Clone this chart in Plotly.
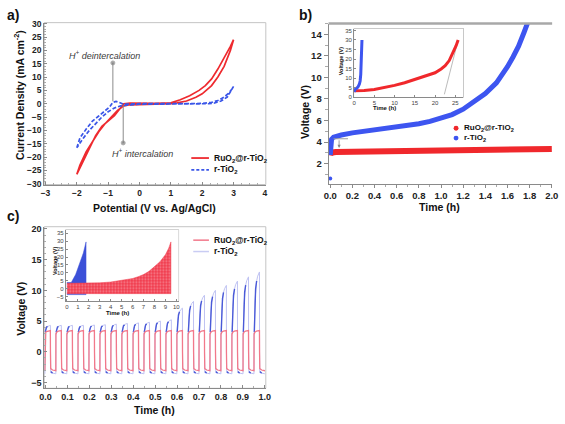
import plotly.graph_objects as go

W, H = 565, 424
def fx(px): return px / W
def fy(py): return 1 - py / H

FONT = "Liberation Sans, Arial, sans-serif"

# ---------------- Panel a: CV data ----------------
cv_red_x = [-2.0, -1.8, -1.6, -1.4, -1.2, -1.0, -0.8, -0.6, -0.5, -0.3, 0.0, 0.5, 1.0, 1.3, 1.6, 1.9, 2.1, 2.3, 2.5, 2.7, 2.9, 3.0,
            2.9, 2.7, 2.5, 2.3, 2.1, 2.0, 1.8, 1.5, 1.2, 1.0, 0.5, 0.0, -0.3, -0.5, -0.7, -0.9, -1.1, -1.3, -1.5, -1.7, -1.9, -2.0]
cv_red_y = [-26.5, -21.5, -16.5, -12.0, -8.5, -6.5, -4.5, -1.5, 0.0, 0.2, 0.1, 0.1, 0.3, 1.5, 3.0, 5.0, 6.8, 9.3, 13.0, 17.0, 21.5, 24.0,
            20.0, 14.0, 10.0, 6.8, 4.6, 3.7, 2.4, 1.0, 0.3, 0.0, -0.2, -0.3, -0.4, -0.8, -2.5, -5.0, -7.5, -10.5, -14.0, -18.0, -23.0, -26.5]
cv_blue_x = [-2.0, -1.9, -1.7, -1.5, -1.3, -1.1, -0.95, -0.85, -0.75, -0.65, -0.5, -0.3, 0.0, 1.0, 2.0, 2.3, 2.5, 2.7, 2.85, 2.95, 3.0,
             2.95, 2.8, 2.6, 2.4, 2.2, 1.0, 0.0, -0.4, -0.6, -0.8, -1.0, -1.2, -1.4, -1.6, -1.8, -2.0]
cv_blue_y = [-16.5, -12.8, -9.5, -6.5, -4.6, -2.8, -1.2, 0.5, 0.9, 0.5, -0.2, -0.1, 0.0, 0.0, 0.1, 0.5, 1.2, 2.5, 4.0, 5.5, 6.5,
             5.0, 2.5, 1.0, 0.3, 0.0, -0.1, -0.2, -0.5, -0.8, -1.6, -3.0, -5.0, -7.5, -10.0, -13.0, -16.5]
deint_x = [-0.85, -0.85]
deint_y = [15.3, 0.9]
int_x = [-0.52, -0.52]
int_y = [-0.6, -14.7]

# ---------------- Panel b: discharge data ----------------
b_red_t = [0.0, 0.005, 0.05, 0.4, 0.82, 0.85, 1.2, 1.6, 2.0]
b_red_v = [2.75, 3.0, 3.07, 3.13, 3.18, 3.25, 3.3, 3.33, 3.36]
b_blue_t = [0.0, 0.003, 0.006, 0.012, 0.03, 0.06, 0.1, 0.2, 0.3, 0.4, 0.5, 0.6, 0.7, 0.8, 0.9, 1.0,
            1.1, 1.2, 1.3, 1.4, 1.5, 1.55, 1.6, 1.65, 1.7, 1.75, 1.79]
b_blue_v = [2.8, 3.4, 3.9, 4.25, 4.45, 4.55, 4.65, 4.85, 4.98, 5.1, 5.22, 5.37, 5.53, 5.7, 5.92, 6.2,
            6.55, 7.05, 7.75, 8.5, 9.5, 10.2, 11.0, 11.9, 12.9, 14.2, 15.3]
b_blue_start_t = [0.0]
b_blue_start_v = [0.6]
b_guide_t = [0.03, 0.16]
b_guide_v = [4.3, 4.3]

bi_red_t = [0, 2.5, 5, 7.5, 10, 12.5, 15, 17.5, 20, 21.5, 22.5, 23.5, 24.5, 25.2, 25.7]
bi_red_v = [3.4, 3.5, 4.0, 4.9, 6.2, 7.6, 9.3, 11.0, 12.8, 14.8, 16.5, 19.2, 23.5, 27.0, 30.0]
bi_blue_t = [0, 0.3, 0.7, 1.0, 1.3, 1.5, 1.65, 1.75, 1.85, 1.95]
bi_blue_v = [2.8, 4.2, 4.8, 5.5, 6.8, 8.5, 12.0, 17.0, 23.0, 30.0]
bi_guide_t = [22.3, 25.7]
bi_guide_v = [1.5, 30.0]

# ---------------- Panel c: cycling data ----------------
c_cycle_start = [-0.003, 0.047, 0.097, 0.148, 0.198, 0.248, 0.298, 0.348, 0.399, 0.449,
                 0.499, 0.549, 0.599, 0.650, 0.700, 0.750, 0.800, 0.850, 0.901, 0.951, 1.001]
c_blue_peak = [4.3, 4.3, 4.3, 4.3, 4.35, 4.4, 4.5, 4.6, 4.7, 4.8,
               5.0, 5.2, 7.1, 8.2, 9.2, 10.0, 10.8, 11.5, 12.2, 13.0]
c_blue_trough = [-3.6] * 20
c_red_peak = [3.45] * 20
c_red_trough = [-3.1] * 20
charge_u = [0.0, 0.1, 0.25, 0.45, 0.65, 0.85, 1.0]
charge_shape = [0.0, 0.5, 0.72, 0.85, 0.93, 0.975, 1.0]

ci_red_top_t = [0.0, 1.0, 2.0, 3.0, 4.0, 5.0, 6.0, 6.5, 7.0, 7.5, 8.0, 8.5, 9.0, 9.3, 9.5]
ci_red_top_v = [3.5, 3.5, 3.6, 3.8, 4.3, 5.2, 6.5, 7.6, 9.0, 11.0, 13.8, 17.0, 21.5, 25.5, 29.5]
ci_red_low = -3.0
ci_blue_top_t = [0.0, 0.4, 0.8, 1.2, 1.5, 1.75]
ci_blue_top_v = [4.0, 4.0, 9.0, 16.0, 22.5, 29.5]
ci_blue_low = -3.6


def cycle_wave(starts, peaks, troughs, jump_v, drop_v):
    """Build the charge/discharge trace and the 'dense-sample' segments from per-cycle values."""
    ts, vs, dts, dvs = [], [], [], []
    for k in range(len(peaks)):
        s, e = starts[k], starts[k + 1]
        half = (e - s) / 2
        prev_tr = troughs[k - 1] if k > 0 else troughs[0]
        ts += [s, s + 0.0004]
        vs += [prev_tr, jump_v]
        seg_t, seg_v = [], []
        for i, (u, f) in enumerate(zip(charge_u, charge_shape)):
            t = s + 0.0015 + u * (half - 0.0015)
            v = jump_v + (peaks[k] - jump_v) * f
            ts.append(t)
            vs.append(v)
            if i <= 3:
                seg_t.append(t)
                seg_v.append(v)
        ts += [s + half + 0.0004, s + half + 0.0015, s + half + 0.01, e]
        vs += [drop_v, troughs[k] + 0.35, troughs[k] + 0.12, troughs[k]]
        dts += seg_t + [None, s + half + 0.0015, s + half + 0.01, None]
        dvs += seg_v + [None, troughs[k] + 0.35, troughs[k] + 0.12, None]
    return ts, vs, dts, dvs


c_blue_t, c_blue_v, c_blue_dt, c_blue_dv = cycle_wave(c_cycle_start, c_blue_peak, c_blue_trough, 3.2, 0.0)
c_red_t, c_red_v, c_red_dt, c_red_dv = cycle_wave(c_cycle_start, c_red_peak, c_red_trough, 2.9, 0.0)

fig = go.Figure()

RED = "#ee2a2f"
BLUE = "#3a56e8"
# panel a
fig.add_trace(go.Scatter(x=cv_red_x, y=cv_red_y, mode="lines", line=dict(color=RED, width=1.7),
                         xaxis="x", yaxis="y", showlegend=False))
fig.add_trace(go.Scatter(x=cv_blue_x, y=cv_blue_y, mode="lines", line=dict(color=BLUE, width=1.7, dash="4px,2px"),
                         xaxis="x", yaxis="y", showlegend=False))
fig.add_trace(go.Scatter(x=deint_x, y=deint_y, mode="lines+markers", line=dict(color="#8c8c8c", width=1),
                         marker=dict(size=[4, 0], color="#777"), xaxis="x", yaxis="y", showlegend=False))
fig.add_trace(go.Scatter(x=int_x, y=int_y, mode="lines+markers", line=dict(color="#8c8c8c", width=1),
                         marker=dict(size=[0, 4], color="#777"), xaxis="x", yaxis="y", showlegend=False))

# panel b main
fig.add_trace(go.Scatter(x=b_red_t, y=b_red_v, mode="lines", line=dict(color="#f0282c", width=6),
                         xaxis="x2", yaxis="y2", showlegend=False))
fig.add_trace(go.Scatter(x=b_blue_t, y=b_blue_v, mode="lines", line=dict(color="#3d55f0", width=5),
                         xaxis="x2", yaxis="y2", showlegend=False))
fig.add_trace(go.Scatter(x=b_blue_start_t, y=b_blue_start_v, mode="markers", marker=dict(color="#3d55f0", size=4),
                         xaxis="x2", yaxis="y2", showlegend=False))
fig.add_trace(go.Scatter(x=b_guide_t, y=b_guide_v, mode="lines", line=dict(color="#999", width=1),
                         xaxis="x2", yaxis="y2", showlegend=False))
# panel b inset
fig.add_trace(go.Scatter(x=bi_guide_t, y=bi_guide_v, mode="lines", line=dict(color="#aaa", width=0.8),
                         xaxis="x3", yaxis="y3", showlegend=False))
fig.add_trace(go.Scatter(x=bi_red_t, y=bi_red_v, mode="lines", line=dict(color="#f0282c", width=3),
                         xaxis="x3", yaxis="y3", showlegend=False))
fig.add_trace(go.Scatter(x=bi_blue_t, y=bi_blue_v, mode="lines", line=dict(color="#3d55f0", width=3),
                         xaxis="x3", yaxis="y3", showlegend=False))

# panel c main
fig.add_trace(go.Scatter(x=c_blue_t, y=c_blue_v, mode="lines", line=dict(color="#bfc2f2", width=1),
                         xaxis="x4", yaxis="y4", showlegend=False))
fig.add_trace(go.Scatter(x=c_blue_dt, y=c_blue_dv, mode="lines", line=dict(color="#4a5ad8", width=1.4),
                         connectgaps=False, xaxis="x4", yaxis="y4", showlegend=False))
fig.add_trace(go.Scatter(x=c_red_t, y=c_red_v, mode="lines", line=dict(color="#f2788a", width=1.3),
                         xaxis="x4", yaxis="y4", showlegend=False))

# panel c inset (filled envelopes)
fig.add_trace(go.Scatter(x=ci_blue_top_t + [ci_blue_top_t[-1], 0.0], y=ci_blue_top_v + [ci_blue_low, ci_blue_low],
                         fill="toself", mode="lines", line=dict(color="#3c50d8", width=0.5), fillcolor="#3c50d8",
                         xaxis="x5", yaxis="y5", showlegend=False))
fig.add_trace(go.Scatter(x=ci_red_top_t + [ci_red_top_t[-1], 0.0], y=ci_red_top_v + [ci_red_low, ci_red_low],
                         fill="toself", mode="lines", line=dict(color="#f04050", width=0.5),
                         fillpattern=dict(shape=".", bgcolor="#f03a4c", fgcolor="#fbd0d6", size=3, solidity=0.35),
                         xaxis="x5", yaxis="y5", showlegend=False))


def tf(size, color="#222", bold=True):
    return dict(family=FONT, size=size, color=color, weight="bold" if bold else "normal")


def ax(domain, rng, anchor, dtick, tsize, ticks="inside", tlen=3, minor_dtick=None, color="#222", bold=True,
       showline=True, lc="#8a8a8a", tick0=None, fmt=None):
    d = dict(domain=domain, range=rng, anchor=anchor, dtick=dtick, tickfont=tf(tsize, color, bold),
             ticks=ticks, ticklen=tlen, tickcolor=lc, showline=showline, linecolor=lc, linewidth=1,
             showgrid=False, zeroline=False, fixedrange=True, ticklabeloverflow="allow")
    if tick0 is not None:
        d["tick0"] = tick0
    if fmt:
        d["tickformat"] = fmt
    if minor_dtick:
        d["minor"] = dict(dtick=minor_dtick, ticks=ticks, ticklen=max(1, tlen - 1), tickcolor="#aaa")
    return d


layout = dict(
    width=W, height=H, margin=dict(l=0, r=0, t=0, b=0), autosize=False,
    paper_bgcolor="white", plot_bgcolor="white", showlegend=False,
    xaxis=ax([fx(40), fx(266)], [-3.04, 4.03], "y", 1, 8.5, minor_dtick=0.25, tick0=-3),
    yaxis=ax([fy(184), fy(19)], [-30.3, 30.4], "x", 5, 8.5, minor_dtick=1, tick0=-30),
    xaxis2=ax([fx(330), fx(558)], [-0.015, 2.003], "y2", 0.2, 9.5, ticks="outside", tlen=3, minor_dtick=0.1,
              tick0=0, fmt=".1f"),
    yaxis2=ax([fy(183), fy(20)], [0.14, 15], "x2", 2, 9.5, ticks="outside", tlen=4, minor_dtick=1, tick0=0),
    xaxis3=ax([fx(356), fx(467.5)], [0, 27], "y3", 5, 6, tlen=2, color="#444", bold=False, tick0=0),
    yaxis3=ax([fy(95), fy(25)], [0, 36], "x3", 5, 6, tlen=2, color="#444", bold=False, tick0=0),
    xaxis4=ax([fx(40), fx(266)], [-0.006, 1.005], "y4", 0.1, 9, minor_dtick=0.05, tick0=0, fmt=".1f"),
    yaxis4=ax([fy(391.7), fy(227)], [-5.96, 20.37], "x4", 5, 9, minor_dtick=1, tick0=-5),
    xaxis5=ax([fx(62), fx(177)], [-0.1, 10.2], "y5", 1, 6, tlen=2, color="#444", bold=False, tick0=0),
    yaxis5=ax([fy(303), fy(230)], [-7.8, 37.2], "x5", 5, 6, tlen=2, color="#444", bold=False, tick0=-5),
)
fig.update_layout(**layout)

shapes = []
def rect(x0, y0, x1, y1, color, width=1, fill=None, layer="below"):
    shapes.append(dict(type="rect", xref="paper", yref="paper", x0=fx(x0), x1=fx(x1), y0=fy(y1), y1=fy(y0),
                       line=dict(color=color, width=width), fillcolor=fill, layer=layer))
def hline(x0, x1, y, color, width=1, dash=None):
    shapes.append(dict(type="line", xref="paper", yref="paper", x0=fx(x0), x1=fx(x1), y0=fy(y), y1=fy(y),
                       line=dict(color=color, width=width, dash=dash), layer="above"))

rect(40, 19, 266, 184, "#c4c4c4")
hline(330, 558, 20, "#a8a8a8", 2.5)
rect(356, 25, 467.5, 95, "#9a9a9a", 1, "white")
rect(40, 227, 266, 391.7, "#c4c4c4")
rect(62, 230, 177, 303, "#b0b0b0", 1, "white")

# legends (a)
hline(190, 208, 157, RED, 1.8)
hline(190, 208, 169, BLUE, 1.8, "3px,2px")
# legends (c)
hline(192, 208, 240.7, "#f2788a", 1.5)
hline(192, 208, 252.3, "#c9ccf3", 1.5)
# legend dots (b)
for cy, col in [(126.7, "#f0282c"), (136.7, "#3d55f0")]:
    shapes.append(dict(type="circle", xref="paper", yref="paper", x0=fx(457.5), x1=fx(462.5), y0=fy(cy + 2.5),
                       y1=fy(cy - 2.5), fillcolor=col, line=dict(width=0)))
fig.update_layout(shapes=shapes)

ann = []
def text(x, y, s, size, bold=True, angle=0, xanchor="center", color="#111", italic=False):
    ann.append(dict(xref="paper", yref="paper", x=fx(x), y=fy(y), text=s, showarrow=False, textangle=angle,
                    xanchor=xanchor, yanchor="middle",
                    font=dict(family=FONT, size=size, color=color, weight="bold" if bold else "normal",
                              style="italic" if italic else "normal")))

RU = "RuO<sub>2</sub>@r-TiO<sub>2</sub>"
RT = "r-TiO<sub>2</sub>"
text(8, 11, "a)", 14)
text(306, 11, "b)", 14)
text(8, 216, "c)", 14)
text(152, 208, "Potential (V vs. Ag/AgCl)", 10.5)
text(14, 93, "Current Density (mA cm<sup>-2</sup>)", 10.5, angle=-90)
text(63, 52, "H<sup>+</sup> deintercalation", 9, bold=False, xanchor="left", color="#3a3a3a", italic=True)
text(107, 152, "H<sup>+</sup> intercalation", 9, bold=False, xanchor="left", color="#3a3a3a", italic=True)
text(211, 157, RU, 8.5, xanchor="left")
text(211, 169, RT, 8.5, xanchor="left")

text(443, 207, "Time (h)", 10.5)
text(306, 110, "Voltage (V)", 10.5, angle=-90)
text(343, 58, "Voltage (V)", 5.5, angle=-90)
text(387.5, 106, "Time (h)", 6)
text(466, 126.7, RU, 8, xanchor="left")
text(466, 136.7, RT, 8, xanchor="left")

text(152, 414, "Time (h)", 10.5)
text(16, 311, "Voltage (V)", 10.5, angle=-90)
text(51, 262, "Voltage (V)", 5.5, angle=-90)
text(114.5, 314.5, "Time (h)", 6)
text(211, 240.7, RU, 8.5, xanchor="left")
text(211, 252.3, RT, 8.5, xanchor="left")

# arrow in b
ann.append(dict(xref="x2", yref="y2", axref="x2", ayref="y2", x=0.08, y=3.45, ax=0.08, ay=4.3, text="",
                showarrow=True, arrowhead=2, arrowsize=0.8, arrowwidth=0.8, arrowcolor="#888"))
fig.update_layout(annotations=ann)

fig.write_html("out.html", config={"displayModeBar": False},
               post_script="document.body.style.margin='0px';document.body.style.padding='0px';")
